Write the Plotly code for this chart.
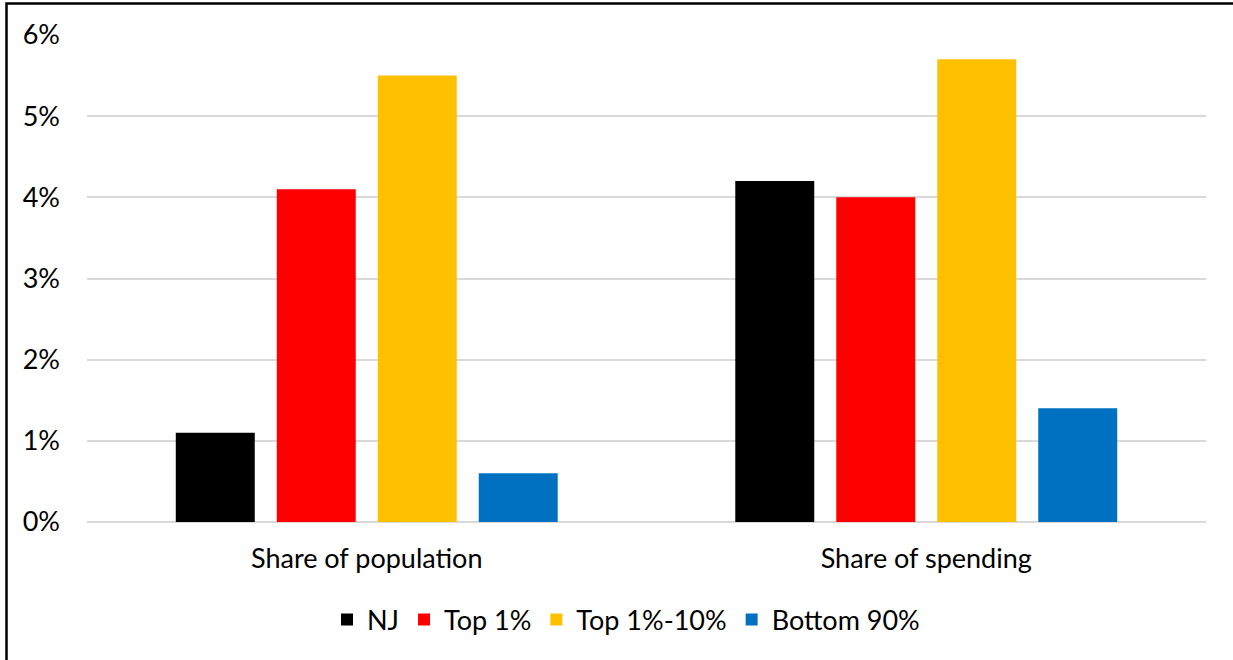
import plotly.graph_objects as go

# Categories and series (values in percent)
categories = ["Share of population", "Share of spending"]
series_names = ["NJ", "Top 1%", "Top 1%-10%", "Bottom 90%"]
nj = [1.1, 4.2]
top1 = [4.1, 4.0]
top1_10 = [5.5, 5.7]
bottom90 = [0.6, 1.4]
y_ticks = [0, 1, 2, 3, 4, 5, 6]
y_tick_labels = ["0%", "1%", "2%", "3%", "4%", "5%", "6%"]

colors = ["#000000", "#FF0000", "#FFC000", "#0070C0"]
values = [nj, top1, top1_10, bottom90]

FONT = "Lato"
FS = 27
W, H = 1233, 660
L, R, T, B = 87, 27, 35, 138
pw, ph = W - L - R, H - T - B

fig = go.Figure()
for name, vals, col in zip(series_names, values, colors):
    fig.add_trace(go.Bar(
        x=categories, y=vals, name=name,
        marker=dict(color=col, line=dict(width=0)),
    ))

# Outer frame: left and top edges of the chart box, as one open path in pixels
fx = (6.5 - L) / pw
fy = (H - B - 3.5) / ph
x_end = (W - L) / pw
y_end = -B / ph
fig.add_shape(type="path", xref="paper", yref="paper",
              path=f"M {fx},{y_end} L {fx},{fy} L {x_end},{fy}",
              line=dict(color="#000000", width=2.5))

fig.update_layout(
    width=W, height=H,
    margin=dict(l=L, r=R, t=T, b=B),
    paper_bgcolor="white", plot_bgcolor="white",
    barmode="group", bargap=0.278, bargroupgap=0.218,
    font=dict(family=FONT, size=FS, color="#000000"),
    showlegend=True,
    legend=dict(
        orientation="h", x=(626 - L) / pw, xanchor="center",
        y=(H - B - 620) / ph, yanchor="middle",
        font=dict(family=FONT, size=FS, color="#000000"),
        itemwidth=30, traceorder="normal",
    ),
    xaxis=dict(showgrid=False, showline=False, ticks="",
               tickfont=dict(family=FONT, size=FS), ticklabelstandoff=18),
    yaxis=dict(range=[0, 6], tickvals=y_ticks, ticktext=y_tick_labels,
               showgrid=True, gridcolor="#D9D9D9", gridwidth=1.5,
               zeroline=True, zerolinecolor="#D9D9D9", zerolinewidth=1.5,
               showline=False, ticks="", ticklabelstandoff=26,
               tickfont=dict(family=FONT, size=FS)),
)

fig.write_html("out.html", config={"displayModeBar": False})
